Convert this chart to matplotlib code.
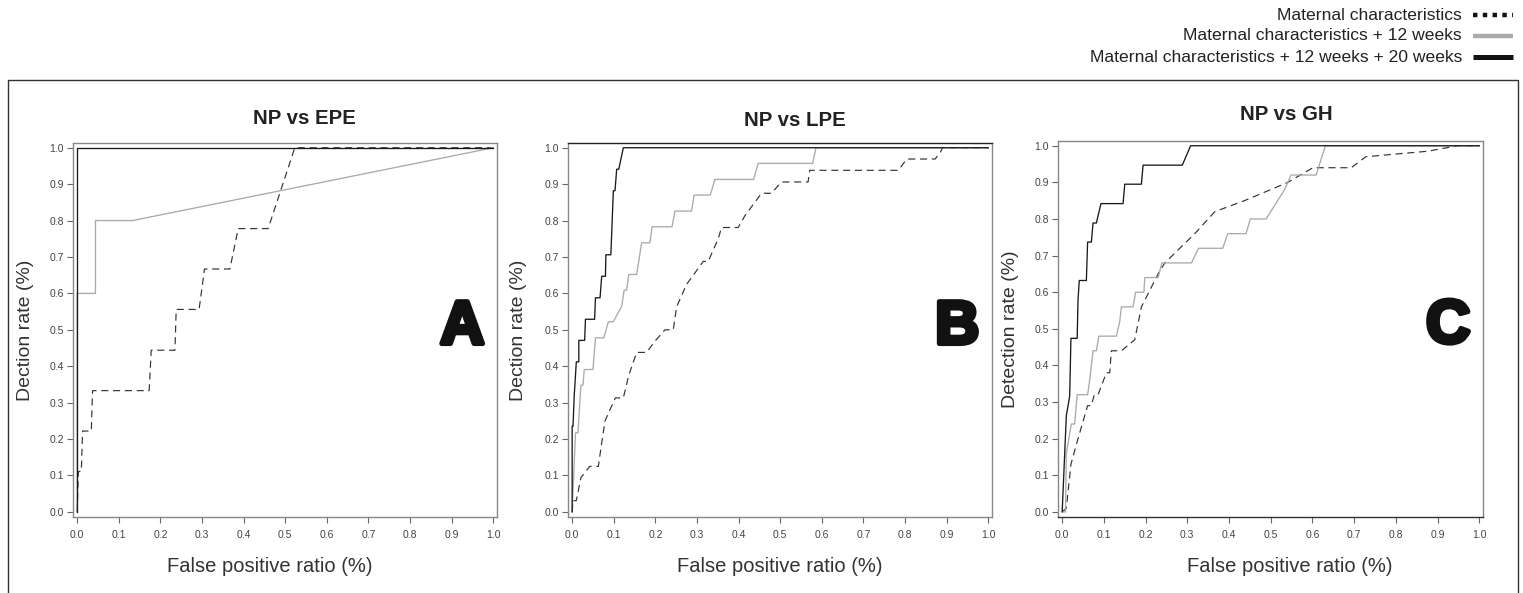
"""
ROC curves for three comparisons (NP vs EPE / LPE / GH), three nested models each.
"""

import matplotlib
matplotlib.use("Agg")
import matplotlib.pyplot as plt
import matplotlib.patheffects as pe
from matplotlib.lines import Line2D
from matplotlib.patches import Rectangle

plt.rcParams["font.family"] = ["Liberation Sans", "DejaVu Sans"]

W, H = 1523, 593

# --- data ---
series_names = [
    "Maternal characteristics",
    "Maternal characteristics + 12 weeks",
    "Maternal characteristics + 12 weeks + 20 weeks",
]
panel_titles = ["NP vs EPE", "NP vs LPE", "NP vs GH"]
panel_letters = ["A", "B", "C"]
y_labels = ["Dection rate (%)", "Dection rate (%)", "Detection rate (%)"]
x_label = "False positive ratio (%)"
tick_values = [0.0, 0.1, 0.2, 0.3, 0.4, 0.5, 0.6, 0.7, 0.8, 0.9, 1.0]

# Panel A: NP vs EPE
a_mat_x = [0.0, 0.003, 0.010, 0.013, 0.034, 0.037, 0.173, 0.178, 0.235, 0.238,
           0.293, 0.306, 0.367, 0.387, 0.459, 0.523, 1.0]
a_mat_y = [0.0, 0.111, 0.111, 0.222, 0.222, 0.333, 0.333, 0.444, 0.444, 0.556,
           0.556, 0.667, 0.667, 0.778, 0.778, 1.0, 1.0]
a_12w_x = [0.0, 0.0, 0.044, 0.044, 0.133, 1.0]
a_12w_y = [0.0, 0.6, 0.6, 0.8, 0.8, 1.0]
a_20w_x = [0.0, 0.0, 1.0]
a_20w_y = [0.0, 1.0, 1.0]

# Panel B: NP vs LPE
b_mat_x = [0.0, 0.002, 0.010, 0.021, 0.042, 0.063, 0.071, 0.079, 0.091, 0.104,
           0.123, 0.136, 0.155, 0.179, 0.199, 0.223, 0.243, 0.251, 0.275, 0.295,
           0.315, 0.327, 0.351, 0.359, 0.399, 0.415, 0.435, 0.455, 0.479, 0.503,
           0.567, 0.571, 0.784, 0.804, 0.872, 0.884, 0.89, 1.0]
b_mat_y = [0.0, 0.031, 0.031, 0.094, 0.125, 0.125, 0.19, 0.25, 0.281, 0.313,
           0.313, 0.375, 0.438, 0.438, 0.469, 0.5, 0.5, 0.563, 0.625, 0.656,
           0.688, 0.688, 0.75, 0.781, 0.781, 0.813, 0.844, 0.875, 0.875, 0.906,
           0.906, 0.938, 0.938, 0.969, 0.969, 0.985, 1.0, 1.0]
b_12w_x = [0.0, 0.008, 0.014, 0.021, 0.026, 0.029, 0.050, 0.056, 0.076, 0.087,
           0.099, 0.119, 0.125, 0.131, 0.136, 0.155, 0.167, 0.187, 0.192, 0.240,
           0.247, 0.287, 0.293, 0.332, 0.343, 0.436, 0.447, 0.578, 0.586, 1.0]
b_12w_y = [0.0, 0.217, 0.217, 0.348, 0.348, 0.391, 0.391, 0.478, 0.478, 0.522,
           0.522, 0.565, 0.609, 0.609, 0.652, 0.652, 0.739, 0.739, 0.783, 0.783,
           0.826, 0.826, 0.870, 0.870, 0.913, 0.913, 0.957, 0.957, 1.0, 1.0]
b_20w_x = [0.0, 0.0, 0.002, 0.005, 0.010, 0.016, 0.016, 0.030, 0.032, 0.054,
           0.056, 0.067, 0.071, 0.080, 0.081, 0.093, 0.095, 0.099, 0.103, 0.107,
           0.112, 0.123, 1.0]
b_20w_y = [0.0, 0.235, 0.235, 0.32, 0.412, 0.412, 0.471, 0.471, 0.529, 0.529,
           0.588, 0.588, 0.647, 0.647, 0.706, 0.706, 0.765, 0.882, 0.882, 0.941,
           0.941, 1.0, 1.0]

# Panel C: NP vs GH
c_mat_x = [0.0, 0.010, 0.021, 0.038, 0.061, 0.070, 0.077, 0.086, 0.106, 0.114,
           0.118, 0.142, 0.174, 0.190, 0.230, 0.246, 0.318, 0.366, 0.437, 0.541,
           0.601, 0.693, 0.728, 0.876, 0.948, 1.0]
c_mat_y = [0.0, 0.01, 0.13, 0.20, 0.29, 0.29, 0.32, 0.32, 0.38, 0.38,
           0.44, 0.44, 0.47, 0.56, 0.65, 0.68, 0.76, 0.82, 0.85, 0.90,
           0.94, 0.94, 0.97, 0.985, 1.0, 1.0]
c_12w_x = [0.0, 0.008, 0.010, 0.022, 0.030, 0.036, 0.061, 0.066, 0.074, 0.082,
           0.088, 0.130, 0.138, 0.142, 0.170, 0.176, 0.196, 0.198, 0.230, 0.239,
           0.310, 0.327, 0.385, 0.397, 0.441, 0.451, 0.489, 0.533, 0.549, 0.609,
           0.631, 1.0]
c_12w_y = [0.0, 0.0, 0.16, 0.24, 0.24, 0.32, 0.32, 0.36, 0.44, 0.44,
           0.48, 0.48, 0.52, 0.56, 0.56, 0.60, 0.60, 0.64, 0.64, 0.68,
           0.68, 0.72, 0.72, 0.76, 0.76, 0.80, 0.80, 0.88, 0.92, 0.92,
           1.0, 1.0]
c_20w_x = [0.0, 0.010, 0.018, 0.021, 0.036, 0.038, 0.041, 0.058, 0.061, 0.070,
           0.074, 0.082, 0.093, 0.146, 0.150, 0.190, 0.194, 0.288, 0.308, 1.0]
c_20w_y = [0.0, 0.263, 0.316, 0.474, 0.474, 0.579, 0.632, 0.632, 0.737, 0.737,
           0.789, 0.789, 0.842, 0.842, 0.895, 0.895, 0.947, 0.947, 1.0, 1.0]

panels = [
    ((a_mat_x, a_mat_y), (a_12w_x, a_12w_y), (a_20w_x, a_20w_y)),
    ((b_mat_x, b_mat_y), (b_12w_x, b_12w_y), (b_20w_x, b_20w_y)),
    ((c_mat_x, c_mat_y), (c_12w_x, c_12w_y), (c_20w_x, c_20w_y)),
]

# pixel boxes (left, top, right, bottom) of each axes frame
axes_px = [(73, 143, 497, 517), (568, 143, 992, 517), (1058, 141, 1483, 517)]
title_px = [(304, 119), (795, 121), (1286, 114)]
xlabel_cx = [270, 780, 1290]
ylabel_cx = [34, 527, 1019]

style_mat = dict(color="#333333", lw=0.85, linestyle=(0, (6, 4)))
style_12w = dict(color="#aaaaaa", lw=0.95, linestyle="-")
style_20w = dict(color="#1a1a1a", lw=0.95, linestyle="-")
styles = [style_mat, style_12w, style_20w]


def main():
    fig = plt.figure(figsize=(W / 100, H / 100), dpi=100)

    # outer frame around the panels (runs off the bottom edge)
    fig.patches.append(Rectangle((8 / W, -0.02), (1518 - 8) / W, 0.02 + 1 - 80 / H,
                                 transform=fig.transFigure, fill=False,
                                 edgecolor="#333333", linewidth=1.0))

    for i, (curves, (l, t, r, b)) in enumerate(zip(panels, axes_px)):
        ax = fig.add_axes([l / W, 1 - b / H, (r - l) / W, (b - t) / H])
        for (xs, ys), st in zip(curves, styles):
            ax.plot(xs, ys, **st)

        ax.set_xlim(-0.010, 1.009)
        ax.set_ylim(-0.014, 1.013)
        ax.set_xticks(tick_values)
        ax.set_yticks(tick_values)
        ax.set_xticklabels([f"{v:.1f}" for v in tick_values])
        ax.set_yticklabels([f"{v:.1f}" for v in tick_values])
        ax.tick_params(axis="both", direction="out", length=4.5, width=0.8,
                       color="#666666", labelsize=7.5, labelcolor="#444444")
        ax.tick_params(axis="x", pad=5)
        ax.tick_params(axis="y", pad=2)
        for sp in ax.spines.values():
            sp.set_color("#888888")
            sp.set_linewidth(1.0)
        if i == 1:
            ax.spines["top"].set_color("#222222")
        if i == 2:
            ax.spines["bottom"].set_color("#333333")

        ax.set_ylabel(y_labels[i], fontsize=14, color="#333333")
        ax.yaxis.set_label_coords((ylabel_cx[i] - l) / (r - l), 0.5)
        ax.set_xlabel(x_label, fontsize=14.5, color="#333333")
        ax.xaxis.set_label_coords((xlabel_cx[i] - l) / (r - l), (b - 557) / (b - t))

        ax.text(0.918, 0.505, panel_letters[i], transform=ax.transAxes,
                ha="center", va="center", fontsize=44, fontweight="bold",
                family="Liberation Sans", color="#111111",
                path_effects=[pe.withStroke(linewidth=3.5, foreground="#111111")])

        tx, ty = title_px[i]
        fig.text(tx / W, 1 - ty / H, panel_titles[i], ha="center", va="center",
                 fontsize=14.7, fontweight="bold", color="#222222")

    # legend in the top-right corner
    legend_rows = [
        dict(color="#111111", lw=3.2, linestyle=(0, (1, 1.2))),
        dict(color="#aaaaaa", lw=3.2, linestyle="-"),
        dict(color="#111111", lw=3.6, linestyle="-"),
    ]
    for name, st, y in zip(series_names, legend_rows, [15, 36, 57]):
        fig.text(1462 / W, 1 - y / H, name, ha="right", va="center",
                 fontsize=12.6, color="#222222")
        fig.lines.append(Line2D([1473 / W, 1513 / W], [1 - y / H, 1 - y / H],
                                transform=fig.transFigure, solid_capstyle="butt",
                                dash_capstyle="butt", **st))

    fig.savefig("out.png", dpi=100, facecolor="white")
    plt.close(fig)


if __name__ == "__main__":
    main()
